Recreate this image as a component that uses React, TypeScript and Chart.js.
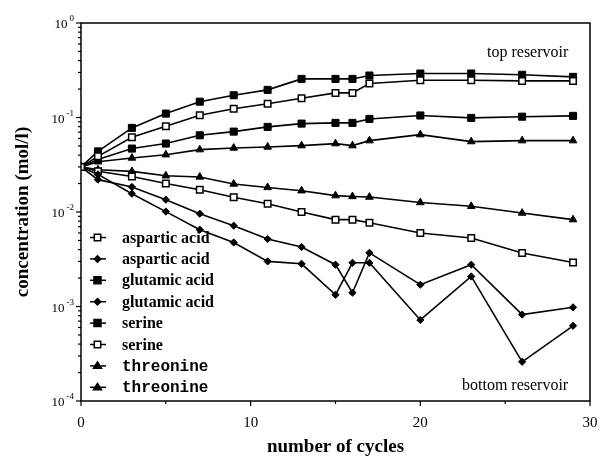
import React, { useEffect, useRef } from 'react';
import { Chart, registerables } from 'chart.js';

Chart.register(...registerables);

const cycles = [0, 1, 3, 5, 7, 9, 11, 13, 15, 16, 17, 20, 23, 26, 29];

const asparticTop = [0.03, 0.0388, 0.0617, 0.0807, 0.1055, 0.124, 0.14, 0.16, 0.182, 0.182, 0.229, 0.248, 0.248, 0.244, 0.244];
const asparticBottom = [0.03, 0.022, 0.0184, 0.0135, 0.0096, 0.00716, 0.00518, 0.00426, 0.00277, 0.0014, 0.0037, 0.0017, 0.00277, 0.00082, 0.00098];
const glutamicTop = [0.03, 0.0438, 0.0776, 0.11, 0.147, 0.172, 0.196, 0.256, 0.256, 0.256, 0.278, 0.292, 0.292, 0.283, 0.269];
const glutamicBottom = [0.03, 0.025, 0.0156, 0.0101, 0.0065, 0.00476, 0.003, 0.00283, 0.00133, 0.0029, 0.0029, 0.00072, 0.00208, 0.00026, 0.000625];
const serineTop = [0.03, 0.036, 0.0469, 0.053, 0.0648, 0.0709, 0.0795, 0.0862, 0.0877, 0.0877, 0.0966, 0.105, 0.099, 0.102, 0.104];
const serineBottom = [0.03, 0.027, 0.0238, 0.02, 0.0172, 0.0143, 0.0122, 0.01, 0.0083, 0.0083, 0.0077, 0.006, 0.0053, 0.00368, 0.00292];
const threonineTop = [0.03, 0.034, 0.0373, 0.0404, 0.0457, 0.0476, 0.0488, 0.0504, 0.0529, 0.0504, 0.0569, 0.0659, 0.0556, 0.0569, 0.0569];
const threonineBottom = [0.03, 0.028, 0.0269, 0.0242, 0.0235, 0.0198, 0.0182, 0.0168, 0.0149, 0.0146, 0.0144, 0.0126, 0.0115, 0.00975, 0.0083];

const xTickLabels = [0, 10, 20, 30];
const xTickMarks = [0, 5, 10, 15, 20, 25, 30];
const yDecades = [-4, -3, -2, -1, 0];

const xTitle = 'number of cycles';
const yTitle = 'concentration (mol/l)';
const topNote = 'top reservoir';
const bottomNote = 'bottom reservoir';

type Marker = 'open' | 'filled' | 'diamond' | 'triangle';

const seriesDefs: { label: string; values: number[]; marker: Marker; mono: boolean }[] = [
  { label: 'aspartic acid', values: asparticTop, marker: 'open', mono: false },
  { label: 'aspartic acid', values: asparticBottom, marker: 'diamond', mono: false },
  { label: 'glutamic acid', values: glutamicTop, marker: 'filled', mono: false },
  { label: 'glutamic acid', values: glutamicBottom, marker: 'diamond', mono: false },
  { label: 'serine', values: serineTop, marker: 'filled', mono: false },
  { label: 'serine', values: serineBottom, marker: 'open', mono: false },
  { label: 'threonine', values: threonineTop, marker: 'triangle', mono: true },
  { label: 'threonine', values: threonineBottom, marker: 'triangle', mono: true },
];

const SERIF = '"Liberation Serif", "Times New Roman", serif';
const MONO = '"Liberation Mono", "Courier New", monospace';

function pointStyleFor(m: Marker) {
  if (m === 'open' || m === 'filled') return 'rect';
  if (m === 'diamond') return 'rectRot';
  return 'triangle';
}
function radiusFor(m: Marker) {
  if (m === 'open') return 4.6;
  if (m === 'filled') return 5;
  if (m === 'diamond') return 3.6;
  return 4.4;
}

function drawMarker(ctx: CanvasRenderingContext2D, m: Marker, cx: number, cy: number) {
  ctx.save();
  ctx.fillStyle = m === 'open' ? '#fff' : '#000';
  ctx.strokeStyle = '#000';
  ctx.lineWidth = 1.5;
  ctx.beginPath();
  if (m === 'open' || m === 'filled') {
    const s = m === 'open' ? 3.2 : 3.5;
    ctx.rect(cx - s, cy - s, 2 * s, 2 * s);
  } else if (m === 'diamond') {
    const r = 3.2;
    ctx.moveTo(cx, cy - r);
    ctx.lineTo(cx + r, cy);
    ctx.lineTo(cx, cy + r);
    ctx.lineTo(cx - r, cy);
    ctx.closePath();
  } else {
    const r = 4;
    ctx.moveTo(cx, cy - r);
    ctx.lineTo(cx + r, cy + r * 0.6);
    ctx.lineTo(cx - r, cy + r * 0.6);
    ctx.closePath();
  }
  ctx.fill();
  ctx.stroke();
  ctx.restore();
}

const decorPlugin = {
  id: 'decor',
  afterDraw(chart: any) {
    const { ctx, chartArea: ca, scales } = chart;
    const x = scales.x;
    const y = scales.y;
    ctx.save();
    ctx.strokeStyle = '#000';
    ctx.fillStyle = '#000';

    // frame
    ctx.lineWidth = 1.5;
    ctx.strokeRect(ca.left, ca.top, ca.right - ca.left, ca.bottom - ca.top);

    // x tick marks
    ctx.lineWidth = 1.2;
    xTickMarks.forEach((v) => {
      const px = x.getPixelForValue(v);
      const len = v % 10 === 0 ? 5 : 3;
      ctx.beginPath();
      ctx.moveTo(px, ca.bottom);
      ctx.lineTo(px, ca.bottom + len);
      ctx.stroke();
    });

    // y tick marks (log)
    yDecades.forEach((k) => {
      for (let m = 1; m <= 9; m++) {
        if (k === 0 && m > 1) break;
        const v = m * Math.pow(10, k);
        const py = y.getPixelForValue(v);
        const len = m === 1 ? 5 : 3;
        ctx.beginPath();
        ctx.moveTo(ca.left - len, py);
        ctx.lineTo(ca.left, py);
        ctx.stroke();
      }
    });

    // y labels with superscripts
    yDecades.forEach((k) => {
      const py = y.getPixelForValue(Math.pow(10, k));
      const exp = k === 0 ? '0' : '-' + String(-k);
      ctx.font = `9px ${SERIF}`;
      const ew = ctx.measureText(exp).width;
      const right = 74;
      ctx.textAlign = 'left';
      ctx.textBaseline = 'alphabetic';
      ctx.fillText(exp, right - ew, py - 2);
      ctx.font = `13px ${SERIF}`;
      ctx.textAlign = 'right';
      ctx.fillText('10', right - ew - 2, py + 5);
    });

    // legend
    const rows = seriesDefs.length;
    for (let i = 0; i < rows; i++) {
      const d = seriesDefs[i];
      const cy = 237.5 + i * 21.4;
      ctx.lineWidth = 1.5;
      ctx.beginPath();
      ctx.moveTo(90, cy);
      ctx.lineTo(106, cy);
      ctx.stroke();
      drawMarker(ctx, d.marker, 97.5, cy);
      ctx.fillStyle = '#000';
      ctx.textAlign = 'left';
      ctx.textBaseline = 'middle';
      ctx.font = d.mono ? `bold 16px ${MONO}` : `bold 16px ${SERIF}`;
      ctx.fillText(d.label, 122, cy + 1);
    }

    // annotations
    ctx.font = `16px ${SERIF}`;
    ctx.textAlign = 'left';
    ctx.textBaseline = 'alphabetic';
    ctx.fillText(topNote, 487, 57);
    ctx.fillText(bottomNote, 462, 390);

    ctx.restore();
  },
};

export default function App() {
  const ref = useRef<HTMLCanvasElement | null>(null);

  useEffect(() => {
    document.body.style.margin = '0';
    const canvas = ref.current;
    if (!canvas) return;
    const datasets = seriesDefs.map((d) => ({
      label: d.label,
      data: cycles.map((c, i) => ({ x: c, y: d.values[i] })),
      borderColor: '#000',
      backgroundColor: d.marker === 'open' ? '#fff' : '#000',
      pointBackgroundColor: d.marker === 'open' ? '#fff' : '#000',
      pointBorderColor: '#000',
      pointBorderWidth: d.marker === 'open' ? 1.5 : 1,
      pointStyle: pointStyleFor(d.marker),
      pointRadius: radiusFor(d.marker),
      borderWidth: 1.6,
      tension: 0,
      fill: false,
    }));

    const chart = new Chart(canvas, {
      type: 'line',
      data: { datasets },
      options: {
        responsive: false,
        animation: false,
        devicePixelRatio: 1,
        layout: { padding: { top: 23, right: 10, left: 0, bottom: 0 } },
        plugins: {
          legend: { display: false },
          tooltip: { enabled: false },
        },
        scales: {
          x: {
            type: 'linear',
            min: 0,
            max: 30,
            afterBuildTicks: (s: any) => {
              s.ticks = xTickLabels.map((v) => ({ value: v }));
            },
            afterFit: (s: any) => {
              s.height = 59;
              s.paddingLeft = 0;
              s.paddingRight = 0;
            },
            grid: { display: false },
            border: { display: false },
            ticks: {
              color: '#000',
              font: { family: SERIF, size: 15 },
              padding: 5,
              maxRotation: 0,
              autoSkip: false,
              callback: (v: any) => String(v),
            },
            title: {
              display: true,
              text: xTitle,
              color: '#000',
              font: { family: SERIF, size: 19, weight: 'bold' },
              padding: { top: 0, bottom: 2 },
            },
          },
          y: {
            type: 'logarithmic',
            min: 0.0001,
            max: 1,
            afterFit: (s: any) => {
              s.width = 81;
              s.paddingTop = 0;
              s.paddingBottom = 0;
            },
            grid: { display: false },
            border: { display: false },
            ticks: { display: false },
            title: {
              display: true,
              text: yTitle,
              color: '#000',
              font: { family: SERIF, size: 19, weight: 'bold' },
              padding: { top: 12, bottom: 0 },
            },
          },
        },
      },
      plugins: [decorPlugin],
    } as any);

    return () => chart.destroy();
  }, []);

  return (
    <div style={{ width: 600, height: 460 }}>
      <canvas ref={ref} width={600} height={460} style={{ display: 'block' }} />
    </div>
  );
}
